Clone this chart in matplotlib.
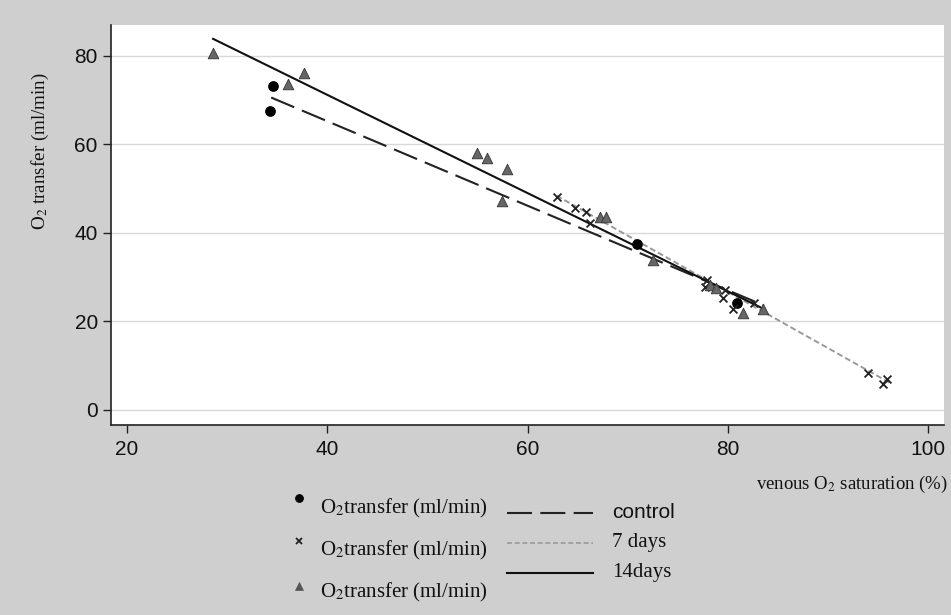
import numpy as np
import matplotlib
matplotlib.use('Agg')
import matplotlib.pyplot as plt
from matplotlib.lines import Line2D

plt.rcParams['mathtext.fontset'] = 'stix'

# control group (circles)
ctrl_x = [34.6, 34.3, 70.9, 80.9]
ctrl_y = [73.2, 67.4, 37.4, 24.2]

# 7 days (crosses)
d7_x = [62.9, 64.7, 65.8, 66.2, 77.9, 77.7, 79.7, 79.5, 80.5, 82.6, 94.0, 95.9, 95.5]
d7_y = [48.0, 45.7, 44.6, 42.1, 29.3, 27.7, 27.0, 25.2, 22.8, 24.1, 8.3, 7.0, 5.9]

# 14 days (triangles)
d14_x = [28.6, 36.1, 37.7, 55.0, 56.0, 58.0, 57.5, 67.2, 67.8, 72.5, 78.2, 78.8, 81.5, 83.5]
d14_y = [80.7, 73.5, 76.0, 57.9, 56.8, 54.3, 47.1, 43.5, 43.5, 33.8, 28.2, 27.6, 21.9, 22.8]

# regression lines: slope, intercept, x-range
ctrl_fit = (-0.954, 103.35, 34.4, 83.6)
d7_fit = (-1.27, 128.26, 62.9, 96.2)
d14_fit = (-1.109, 115.5, 28.6, 83.6)

ctrl_style = dict(color='#222222', lw=1.5, dashes=(12, 4))
d7_style = dict(color='#999999', lw=1.4, dashes=(3, 1.6))
d14_style = dict(color='#111111', lw=1.5)

bg = '#cfcfcf'
fig = plt.figure(figsize=(9.51, 6.15), dpi=100, facecolor=bg)
ax = fig.add_axes([0.1167, 0.309, 0.876, 0.651])
ax.set_facecolor('white')

for fit, style in [(ctrl_fit, ctrl_style), (d7_fit, d7_style), (d14_fit, d14_style)]:
    m, b, x0, x1 = fit
    xs = np.array([x0, x1])
    ax.plot(xs, m * xs + b, **style)

ax.scatter(ctrl_x, ctrl_y, marker='o', s=45, color='black', zorder=3)
ax.scatter(d7_x, d7_y, marker='x', s=32, color='#222222', linewidths=1.3, zorder=3)
ax.scatter(d14_x, d14_y, marker='^', s=58, color='#666666', edgecolors='#333333',
           linewidths=0.6, zorder=3)

ax.set_xlim(18.4, 101.6)
ax.set_ylim(-3.4, 87)
ax.set_xticks([20, 40, 60, 80, 100])
ax.set_yticks([0, 20, 40, 60, 80])
ax.grid(axis='y', color='#d8d8d8', lw=1)
ax.set_axisbelow(True)
for s in ['top', 'right']:
    ax.spines[s].set_visible(False)
for s in ['left', 'bottom']:
    ax.spines[s].set_color('#222222')
    ax.spines[s].set_linewidth(1.2)
ax.tick_params(direction='out', length=5.5, width=1, color='#222222',
               labelsize=15, labelcolor='#111111')
ax.tick_params(axis='x', pad=5)
ax.tick_params(axis='y', pad=4)
for lab in ax.get_xticklabels() + ax.get_yticklabels():
    lab.set_family('Liberation Sans')

fig.text(0.042, 1 - 151 / 615, r'O$_2$ transfer (ml/min)', rotation=90, ha='center',
         va='center', family='Liberation Serif', fontsize=13.7, color='#111111')
fig.text(0.997, 1 - 484 / 615, r'venous O$_2$ saturation (%)', ha='right', va='center',
         family='Liberation Serif', fontsize=13.5, color='#111111')

# legend, drawn by hand in figure pixels
W, H = 951, 615
def fx(px):
    return px / W
def fy(py):
    return 1 - py / H

mk = [('o', 'black', 33, 498, 508), ('x', '#222222', 22, 541, 550), ('^', '#555555', 40, 586, 592)]
for m, c, s, my, ty in mk:
    fig.add_artist(Line2D([fx(299)], [fy(my)], marker=m, color=c, linestyle='none',
                          markersize=np.sqrt(s), markeredgewidth=1.3 if m == 'x' else 0.5))
    fig.text(fx(320), fy(ty), r'O$_2$transfer (ml/min)', ha='left', va='center',
             family='Liberation Serif', fontsize=15, color='#111111')

legend_lines = [('control', ctrl_style, 'Liberation Sans', 513),
                ('7 days', dict(d7_style, lw=1.2), 'Liberation Serif', 543),
                ('14days', d14_style, 'Liberation Serif', 573)]
for lab, style, fam, yy in legend_lines:
    fig.add_artist(Line2D([fx(507), fx(593)], [fy(yy), fy(yy)], **style))
    fig.text(fx(612), fy(yy), lab, ha='left', va='center',
             family=fam, fontsize=15, color='#111111')

fig.savefig('out.png', dpi=100, facecolor=bg)
